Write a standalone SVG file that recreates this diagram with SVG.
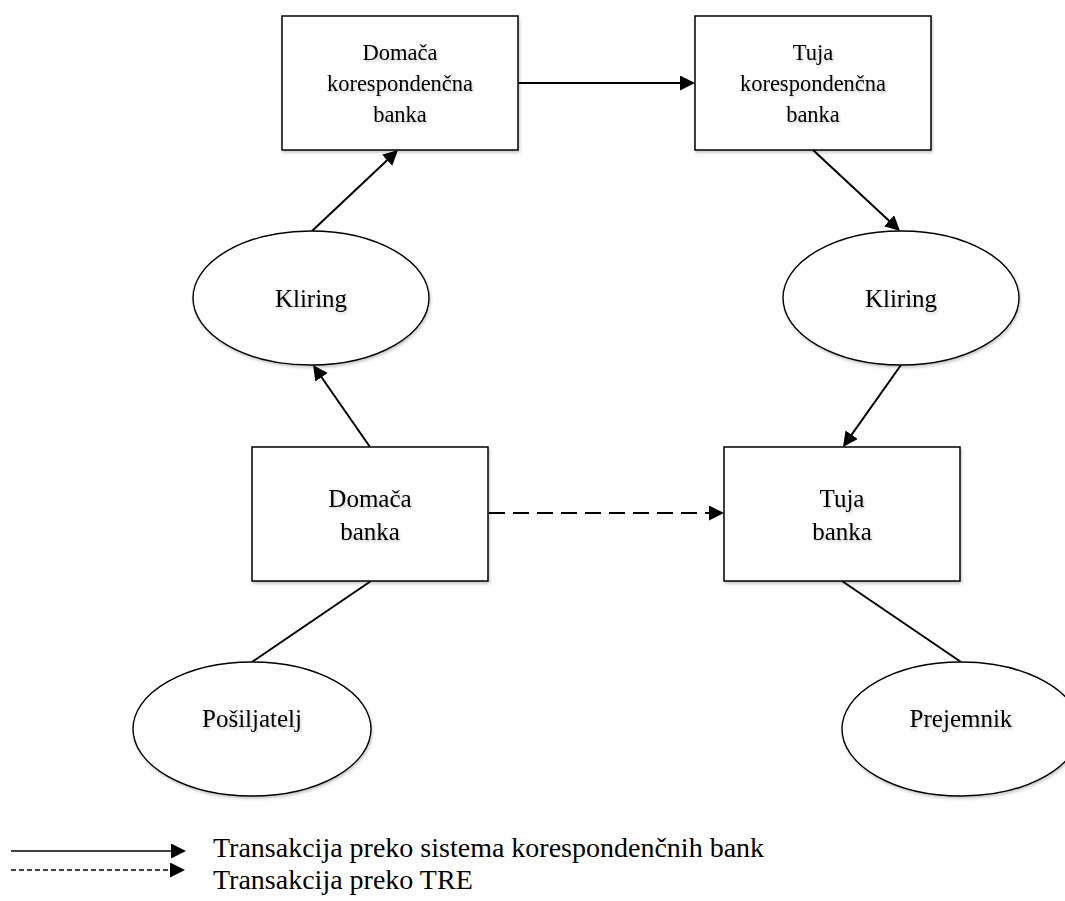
<svg xmlns="http://www.w3.org/2000/svg" width="1065" height="901" viewBox="0 0 1065 901">
  <defs>
    <style>
      .box { fill: #ffffff; stroke: #000000; stroke-width: 1.5; }
      .oval { fill: #ffffff; stroke: #000000; stroke-width: 1.4; }
      .lbl { font-family: "Liberation Serif", "Times New Roman", serif; fill: #000000; text-anchor: middle; }
      .lbl-top { font-size: 22.5px; }
      .lbl-main { font-size: 25px; }
      .legend-text { font-family: "Liberation Serif", "Times New Roman", serif; font-size: 28px; fill: #000000; }
      .link { fill: none; stroke: #000000; stroke-width: 2; }
      .link-dash { fill: none; stroke: #000000; stroke-width: 2; stroke-dasharray: 16 8; }
      .key-solid { fill: none; stroke: #000000; stroke-width: 1.5; }
      .key-dash { fill: none; stroke: #000000; stroke-width: 1.3; stroke-dasharray: 5 3; }
    </style>
    <marker id="head" markerUnits="userSpaceOnUse" markerWidth="16" markerHeight="16" refX="11" refY="7.5" orient="auto">
      <path d="M0,0 L15,7.5 L0,15 z" fill="#000000"/>
    </marker>
    <filter id="soft" x="-10%" y="-10%" width="125%" height="130%">
      <feDropShadow dx="1" dy="2" stdDeviation="1.4" flood-color="#000000" flood-opacity="0.22"/>
    </filter>
  </defs>

  <!-- connectors -->
  <g id="connectors">
    <line class="link" x1="518" y1="83" x2="691" y2="83" marker-end="url(#head)"/>
    <line class="link" x1="312" y1="231" x2="395.1" y2="152.7" marker-end="url(#head)"/>
    <line class="link" x1="370" y1="447" x2="315.3" y2="368.3" marker-end="url(#head)"/>
    <line class="link" x1="813" y1="150" x2="897.1" y2="228.3" marker-end="url(#head)"/>
    <line class="link" x1="901" y1="365" x2="845.3" y2="443.7" marker-end="url(#head)"/>
    <line class="link-dash" x1="489" y1="513" x2="720" y2="513" marker-end="url(#head)"/>
    <line class="link" x1="371" y1="581" x2="252" y2="662"/>
    <line class="link" x1="842" y1="581" x2="961" y2="662"/>
  </g>

  <!-- nodes -->
  <g id="domaca-korespondencna-banka">
    <rect class="box" x="282" y="16" width="236" height="134" filter="url(#soft)"/>
    <text class="lbl lbl-top" x="400" y="60" filter="url(#soft)">Domača</text>
    <text class="lbl lbl-top" x="400" y="91" filter="url(#soft)">korespondenčna</text>
    <text class="lbl lbl-top" x="400" y="122" filter="url(#soft)">banka</text>
  </g>

  <g id="tuja-korespondencna-banka">
    <rect class="box" x="695" y="16" width="236" height="134" filter="url(#soft)"/>
    <text class="lbl lbl-top" x="813" y="60" filter="url(#soft)">Tuja</text>
    <text class="lbl lbl-top" x="813" y="91" filter="url(#soft)">korespondenčna</text>
    <text class="lbl lbl-top" x="813" y="122" filter="url(#soft)">banka</text>
  </g>

  <g id="kliring-domaci">
    <ellipse class="oval" cx="311" cy="298" rx="118" ry="67" filter="url(#soft)"/>
    <text class="lbl lbl-main" x="311" y="307" filter="url(#soft)">Kliring</text>
  </g>

  <g id="kliring-tuji">
    <ellipse class="oval" cx="901" cy="298" rx="118" ry="67" filter="url(#soft)"/>
    <text class="lbl lbl-main" x="901" y="307" filter="url(#soft)">Kliring</text>
  </g>

  <g id="domaca-banka">
    <rect class="box" x="252" y="447" width="236" height="134" filter="url(#soft)"/>
    <text class="lbl lbl-main" x="370" y="507" filter="url(#soft)">Domača</text>
    <text class="lbl lbl-main" x="370" y="540" filter="url(#soft)">banka</text>
  </g>

  <g id="tuja-banka">
    <rect class="box" x="724" y="447" width="236" height="134" filter="url(#soft)"/>
    <text class="lbl lbl-main" x="842" y="507" filter="url(#soft)">Tuja</text>
    <text class="lbl lbl-main" x="842" y="540" filter="url(#soft)">banka</text>
  </g>

  <g id="posiljatelj">
    <ellipse class="oval" cx="252" cy="729" rx="119" ry="67" filter="url(#soft)"/>
    <text class="lbl lbl-main" x="252" y="727" filter="url(#soft)">Pošiljatelj</text>
  </g>

  <g id="prejemnik">
    <ellipse class="oval" cx="961" cy="729" rx="119" ry="67" filter="url(#soft)"/>
    <text class="lbl lbl-main" x="961" y="727" filter="url(#soft)">Prejemnik</text>
  </g>

  <!-- legend -->
  <g id="legend">
    <line class="key-solid" x1="11" y1="851" x2="182" y2="851" marker-end="url(#head)"/>
    <line class="key-dash" x1="11" y1="870" x2="181" y2="870" marker-end="url(#head)"/>
    <text class="legend-text" x="213" y="857">Transakcija preko sistema korespondenčnih bank</text>
    <text class="legend-text" x="213" y="889">Transakcija preko TRE</text>
  </g>
</svg>
